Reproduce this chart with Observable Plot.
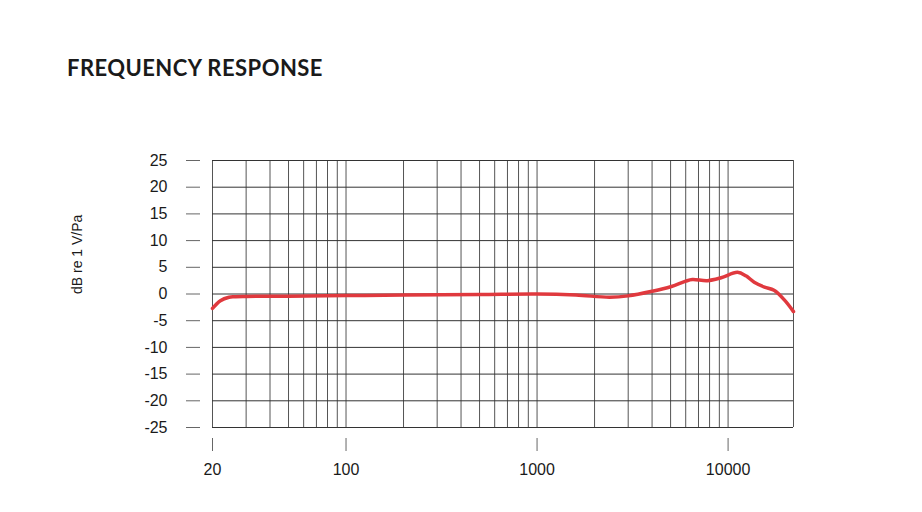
<!DOCTYPE html>
<html><head><meta charset="utf-8">
<script src="https://cdn.jsdelivr.net/npm/d3@7"></script>
<script src="https://cdn.jsdelivr.net/npm/@observablehq/plot@0.6"></script>
<style>
body{margin:0;background:#fff;}
#wrap{width:922px;}
#title{height:100px;position:relative;}
#title span{position:absolute;left:67px;top:57px;font:700 22px Lato, sans-serif;letter-spacing:0.45px;color:#1a1a1a;line-height:1;}
</style></head><body>
<div id="wrap"><div id="title"><span>FREQUENCY RESPONSE</span></div><div id="chart"></div></div>
<script>
const freq = [20, 22, 24.4, 26, 30, 50, 100, 200, 500, 1000, 1600, 2400, 3000, 4000, 5000, 6000, 6500, 7800, 9200, 11200, 12400, 13700, 15500, 17400, 19700, 22000];
const db = [-2.7, -1.25, -0.6, -0.5, -0.45, -0.4, -0.3, -0.2, -0.1, 0, -0.2, -0.6, -0.35, 0.5, 1.35, 2.4, 2.7, 2.5, 3.05, 4.05, 3.4, 2.2, 1.3, 0.7, -1.1, -3.3];
const yTicks = [-25, -20, -15, -10, -5, 0, 5, 10, 15, 20, 25];
const xTicks = [20, 100, 1000, 10000];
const gridFreqs = [20, 30, 40, 50, 60, 70, 80, 90, 100, 200, 300, 400, 500, 600, 700, 800, 900, 1000, 2000, 3000, 4000, 5000, 6000, 7000, 8000, 9000, 10000, 22000];
const yLabel = "dB re 1 V/Pa";

const data = freq.map((f, i) => ({f, db: db[i]}));

const chart = Plot.plot({
  width: 922, height: 412,
  marginTop: 60, marginLeft: 212, marginRight: 129, marginBottom: 85,
  x: {type: "log", domain: [20, 22000]},
  y: {domain: [-25, 25]},
  style: {fontFamily: "'Liberation Sans', Arial, sans-serif", fontSize: "16px", color: "#1a1a1a", background: "#fff"},
  marks: [
    Plot.ruleX(gridFreqs, {stroke: "#555", strokeWidth: 1}),
    Plot.ruleY(yTicks, {stroke: "#333", strokeWidth: 1}),
    Plot.axisY(yTicks, {tickSize: 14, dx: -12, tickPadding: 19, label: null, stroke: "#666", tickFormat: d => String(d)}),
    Plot.axisX(xTicks, {tickSize: 13, dy: 11, tickPadding: 12, label: null, stroke: "#666", tickFormat: d => String(d)}),
    Plot.text([yLabel], {frameAnchor: "left", rotate: -90, dx: -135, fontSize: 14, fill: "#1a1a1a"}),
    Plot.line(data, {x: "f", y: "db", stroke: "#e0393e", strokeWidth: 3.5, curve: "catmull-rom"})
  ]
});
document.getElementById("chart").appendChild(chart);
</script>
</body></html>
